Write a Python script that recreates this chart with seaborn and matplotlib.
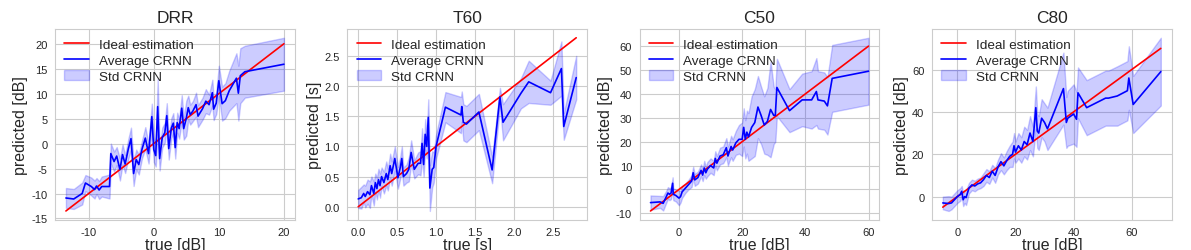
import numpy as np
import matplotlib
matplotlib.use('Agg')
import matplotlib.pyplot as plt
from matplotlib.ticker import MultipleLocator
import seaborn as sns

# DRR: true value, mean prediction, std of prediction
DRR_TRUE = [-13.5, -12.3, -11.0, -10.5, -9.6, -9.1, -8.8, -8.4, -8.0, -6.8,
            -6.6, -6.1, -5.7, -5.2, -4.8, -4.4, -3.9, -3.5, -3.1, -2.7,
            -2.3, -1.8, -1.3, -0.8, -0.3, 0.0, 0.3, 0.6, 0.9, 1.3,
            1.7, 2.0, 2.3, 2.7, 3.0, 3.3, 3.6, 3.9, 4.3, 4.6,
            5.0, 5.3, 5.6, 6.0, 6.5, 6.8, 7.5, 8.0, 8.5, 9.0,
            9.2, 9.6, 10.0, 10.5, 11.0, 11.6, 12.7, 13.0, 13.3, 14.0, 20.0]
DRR_MEAN = [-10.9, -11.1, -10.0, -7.9, -8.6, -9.2, -8.5, -9.3, -8.6, -8.6,
            -2.0, -3.6, -2.5, -5.2, -2.2, -4.1, -1.0, 1.0, -6.0, -3.2,
            -4.2, -1.1, 1.1, -2.0, 5.4, -1.2, -2.4, 7.4, -3.0, 1.2,
            2.2, 5.6, -1.0, 3.1, 4.1, -0.8, 4.2, 3.0, 7.1, 3.0,
            5.1, 7.2, 5.8, 6.5, 7.8, 5.5, 7.0, 8.5, 7.8, 10.2,
            6.9, 8.1, 12.6, 8.0, 8.6, 10.6, 13.1, 10.1, 13.6, 14.4, 15.9]
DRR_STD = [2.0, 2.0, 2.2, 1.6, 1.8, 1.8, 1.6, 1.8, 2.0, 2.4,
           2.0, 2.0, 1.8, 2.2, 2.0, 1.8, 2.0, 2.2, 2.5, 2.0,
           2.0, 1.8, 2.2, 2.0, 2.6, 2.5, 2.2, 5.5, 2.4, 2.0,
           2.0, 2.5, 2.2, 2.0, 2.0, 2.2, 2.0, 2.0, 2.6, 2.2,
           3.5, 2.4, 2.0, 2.0, 2.4, 2.2, 2.2, 2.4, 2.0, 2.6,
           2.2, 2.2, 3.0, 3.4, 3.5, 4.0, 5.0, 5.5, 5.5, 5.2, 5.3]

T60_TRUE = [0.00, 0.04, 0.07, 0.09, 0.12, 0.15, 0.17, 0.20, 0.22, 0.24,
            0.26, 0.28, 0.30, 0.33, 0.36, 0.38, 0.41, 0.43, 0.47, 0.51,
            0.54, 0.56, 0.58, 0.62, 0.65, 0.68, 0.72, 0.77, 0.80, 0.82,
            0.84, 0.86, 0.88, 0.90, 0.92, 0.95, 0.97, 1.00, 1.12, 1.32,
            1.33, 1.35, 1.39, 1.55, 1.72, 1.82, 1.86, 2.09, 2.19, 2.47,
            2.61, 2.64, 2.80]
T60_MEAN = [0.13, 0.15, 0.22, 0.17, 0.25, 0.20, 0.35, 0.22, 0.40, 0.30,
            0.45, 0.35, 0.50, 0.40, 0.55, 0.45, 0.68, 0.55, 0.80, 0.48,
            0.65, 0.80, 0.50, 0.55, 0.62, 0.90, 0.62, 0.72, 0.72, 1.05,
            0.70, 1.20, 1.00, 1.48, 0.31, 0.62, 0.65, 1.00, 1.65, 1.52,
            1.66, 1.40, 1.37, 1.57, 0.61, 1.82, 1.40, 1.88, 2.07, 1.89,
            2.29, 1.33, 2.14]
T60_STD = [0.15, 0.18, 0.15, 0.18, 0.20, 0.22, 0.15, 0.20, 0.15, 0.18,
           0.18, 0.20, 0.15, 0.18, 0.20, 0.18, 0.20, 0.20, 0.20, 0.18,
           0.18, 0.20, 0.15, 0.15, 0.20, 0.20, 0.15, 0.18, 0.20, 0.25,
           0.20, 0.25, 0.20, 0.30, 0.38, 0.30, 0.25, 0.20, 0.25, 0.30,
           0.25, 0.30, 0.30, 0.30, 0.22, 0.15, 0.30, 0.25, 0.35, 0.20,
           0.45, 0.22, 0.36]

C50_TRUE = [-9, -6, -5, -4, -3.5, -3, -2.5, -2, -1.8, -1,
            0, 0.5, 1, 2, 3, 4, 4.5, 5, 6, 7,
            7.5, 8, 8.5, 9, 10, 11, 11.5, 12, 13, 14,
            15, 15.5, 16, 16.5, 17, 18, 19, 20, 20.5, 21,
            21.5, 22, 23, 24, 25, 26, 27, 28, 29, 30,
            30.5, 31, 35, 39, 42, 43.5, 44, 46, 47, 48.5, 60]
C50_MEAN = [-5.5, -5.2, -5.8, -3.0, -1.5, -2.0, -1.5, 2.6, -2.0, -2.5,
            -3.6, -3.0, -1.0, 0.5, 2.0, 3.5, 7.0, 4.0, 5.0, 8.0,
            6.0, 9.0, 7.0, 8.5, 10.0, 9.0, 13.0, 11.0, 14.0, 14.5,
            17.5, 14.0, 16.0, 18.0, 16.5, 19.5, 21.0, 21.0, 26.0, 21.0,
            24.0, 22.0, 26.0, 28.0, 34.5, 31.0, 27.0, 28.5, 33.5, 31.0,
            31.0, 42.7, 33.0, 37.5, 37.5, 41.0, 37.5, 37.0, 35.0, 46.5, 49.5]
C50_STD = [3.0, 2.5, 3.0, 2.5, 2.5, 2.5, 2.5, 2.5, 2.5, 2.5,
           3.0, 2.5, 2.5, 2.0, 2.0, 2.5, 2.5, 2.5, 2.5, 2.5,
           2.5, 3.0, 2.5, 3.0, 3.0, 3.0, 3.0, 3.0, 3.5, 3.5,
           4.0, 4.0, 4.0, 4.5, 4.5, 5.0, 6.0, 7.0, 8.0, 8.0,
           9.0, 10.0, 13.0, 14.0, 13.0, 12.0, 12.0, 14.0, 20.0, 12.0,
           11.0, 12.0, 9.0, 11.0, 12.0, 14.0, 12.0, 12.0, 12.0, 14.0, 14.0]

C80_TRUE = [-5, -3, -2, -1, 0, 1, 1.5, 2, 2.5, 3,
            4, 5, 6, 7, 8, 9, 10, 11, 12, 13,
            14, 15, 16, 17, 18, 19, 19.5, 20, 21, 22,
            23, 24, 25, 26, 27, 27.5, 28, 29, 30, 31,
            36.5, 37.5, 38, 40, 41, 41.5, 44.5, 51, 52, 55,
            58.5, 59, 60.5, 70]
C80_MEAN = [-3.0, -3.3, -3.0, -1.5, 0.0, 1.0, 2.5, -1.5, 0.0, -0.5,
            4.0, 5.5, 5.0, 6.0, 6.5, 8.0, 10.0, 9.0, 12.0, 10.0,
            14.0, 16.5, 14.5, 17.0, 19.0, 20.0, 24.0, 21.0, 24.0, 22.0,
            26.0, 24.5, 30.0, 26.0, 42.0, 31.0, 30.0, 37.0, 35.0, 32.0,
            51.0, 35.0, 37.0, 39.0, 36.5, 49.0, 42.0, 46.5, 46.5, 47.5,
            50.0, 56.0, 43.5, 59.0]
C80_STD = [3.0, 3.5, 3.0, 3.0, 3.0, 3.0, 2.5, 3.0, 3.0, 3.5,
           2.5, 2.5, 2.5, 2.5, 2.5, 3.0, 3.0, 3.0, 3.0, 3.5,
           3.5, 4.0, 4.0, 4.5, 5.0, 6.0, 6.0, 5.0, 6.0, 6.0,
           7.0, 7.0, 8.0, 7.0, 10.0, 8.0, 8.0, 9.0, 9.0, 10.0,
           17.0, 12.0, 13.0, 14.0, 13.0, 12.0, 13.0, 13.0, 13.0, 14.0,
           14.0, 15.0, 13.5, 16.0]

PANELS = [
    ('DRR', '[dB]', DRR_TRUE, DRR_MEAN, DRR_STD, 10, 5),
    ('T60', '[s]', T60_TRUE, T60_MEAN, T60_STD, 0.5, 0.5),
    ('C50', '[dB]', C50_TRUE, C50_MEAN, C50_STD, 20, 10),
    ('C80', '[dB]', C80_TRUE, C80_MEAN, C80_STD, 20, 20),
]


def plot_panel(ax, name, unit, true, mean, std, xstep, ystep):
    true = np.array(true)
    mean = np.array(mean)
    std = np.array(std)
    sns.lineplot(x=true, y=true, color='r', linewidth=1.2,
                 label='Ideal estimation', ax=ax)
    sns.lineplot(x=true, y=mean, color='b', linewidth=1.2,
                 label='Average CRNN', ax=ax)
    ax.fill_between(true, mean - std, mean + std, color='b', alpha=0.2,
                    label='Std CRNN')
    ax.xaxis.set_major_locator(MultipleLocator(xstep))
    ax.yaxis.set_major_locator(MultipleLocator(ystep))
    ax.set_title(name, fontsize=12.5, pad=5)
    ax.set_xlabel('true %s' % unit, fontsize=11.5, labelpad=0)
    ax.set_ylabel('predicted %s' % unit, fontsize=11.5, labelpad=2)
    ax.tick_params(labelsize=8, pad=2)
    ax.legend(loc='upper left', frameon=False, fontsize=9.7,
              borderaxespad=0.3, labelspacing=0.25, handlelength=1.8,
              handletextpad=0.75)


def main():
    sns.set_style('whitegrid')
    plt.rcParams['font.family'] = ['Liberation Sans', 'DejaVu Sans']
    plt.rcParams['axes.unicode_minus'] = False
    fig, axes = plt.subplots(1, 4, figsize=(11.91, 2.51), dpi=100)
    fig.subplots_adjust(left=0.0462, right=0.9838, bottom=0.121,
                        top=0.880, wspace=0.219)
    for ax, panel in zip(axes, PANELS):
        plot_panel(ax, *panel)
    fig.savefig('out.png', dpi=100)


if __name__ == '__main__':
    main()
